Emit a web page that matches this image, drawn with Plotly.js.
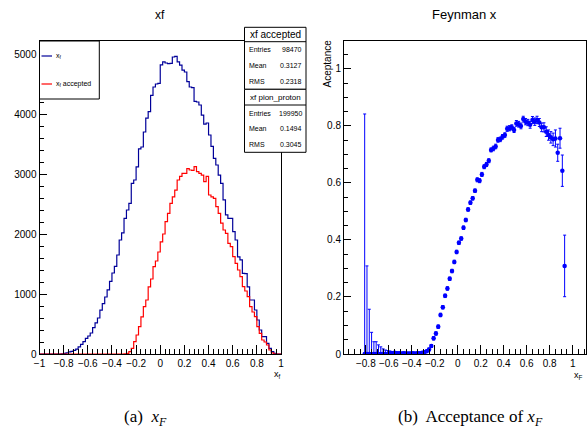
<!DOCTYPE html>
<html><head><meta charset="utf-8">
<script src="https://cdn.plot.ly/plotly-3.0.1.min.js"></script>
<style>html,body{margin:0;padding:0;background:#fff}#chart{width:587px;height:432px}</style>
</head><body><div id="chart"></div>
<script>
// ---------------- data ----------------
const binLow = -1, binHigh = 1, nBins = 100;

// xf (all pion_proton) histogram, 100 bins from -1 to 1
const xfAll = [
  0,0,0,0,0,0,0,0,0,3,
  10,20,35,45,60,80,120,160,205,260,
  300,350,440,520,600,730,840,950,1070,1210,
  1350,1460,1650,1900,2020,2260,2400,2510,2845,2900,
  3120,3420,3450,3700,3930,4040,4310,4450,4500,4510,
  4820,4870,4850,4840,4845,4950,4960,4870,4815,4730,
  4700,4540,4450,4440,4210,4200,4150,3980,3830,3850,
  3650,3460,3260,3150,2980,2845,2570,2320,2260,2260,
  2040,1900,1620,1570,1345,1340,1120,900,900,733,
  567,400,289,289,178,95,40,10,0,0
];
// xf accepted histogram
const xfAccepted = [
  0,0,0,0,0,0,0,0,0,0,
  0,0,0,0,0,0,0,0,0,0,
  0,0,0,0,0,0,0,0,0,0,
  0,0,0,0,0,3,10,40,95,205,
  317,455,620,790,900,1120,1250,1455,1550,1700,
  1870,2000,2205,2345,2510,2620,2733,2900,2960,3011,
  3010,3090,3067,3060,3122,3040,3011,2983,2872,2960,
  2650,2620,2595,2455,2345,2180,2067,2011,1845,1790,
  1622,1511,1400,1290,1122,1050,955,788,700,622,
  455,345,233,200,150,67,20,0,0,0
];

// acceptance points
const accX = [
  -0.81,-0.79,-0.77,-0.75,-0.73,-0.71,-0.69,-0.67,-0.65,-0.63,
  -0.61,-0.59,-0.57,-0.55,-0.53,-0.51,-0.49,-0.47,-0.45,-0.43,
  -0.41,-0.39,-0.37,-0.35,-0.33,-0.31,-0.29,-0.27,-0.25,-0.23,
  -0.21,-0.19,-0.17,-0.15,-0.13,-0.11,-0.09,-0.07,-0.05,-0.03,
  -0.01,0.01,0.03,0.05,0.07,0.09,0.11,0.13,0.15,0.17,
  0.19,0.21,0.23,0.25,0.27,0.29,0.31,0.33,0.35,0.37,
  0.39,0.41,0.43,0.45,0.47,0.49,0.51,0.53,0.55,0.57,
  0.59,0.61,0.63,0.65,0.67,0.69,0.71,0.73,0.75,0.77,
  0.79,0.81,0.83,0.85,0.87,0.89,0.91,0.93
];
const accY = [
  0,0,0,0,0,0,0,0,0,0,
  0,0.004,0.003,0.004,0.003,0.003,0.002,0.003,0.002,0.002,
  0.002,0.003,0.002,0.003,0.003,0.004,0.006,0.010,0.016,0.028,
  0.055,0.072,0.096,0.137,0.164,0.204,0.230,0.264,0.291,0.323,
  0.358,0.390,0.405,0.443,0.470,0.507,0.531,0.546,0.573,0.611,
  0.608,0.630,0.657,0.665,0.678,0.716,0.721,0.728,0.751,0.753,
  0.762,0.768,0.790,0.792,0.795,0.786,0.809,0.806,0.800,0.824,
  0.815,0.812,0.804,0.821,0.815,0.821,0.812,0.795,0.795,0.780,
  0.768,0.760,0.753,0.756,0.706,0.757,0.643,0.309
];
const accErr = [
  0.842,0.309,0.157,0.076,0.043,0.043,0.032,0.025,0.018,0.014,
  0.012,0.006,0.005,0.005,0.004,0.004,0.004,0.004,0.004,0.004,
  0.004,0.004,0.004,0.004,0.004,0.004,0.004,0.004,0.005,0.005,
  0.006,0.006,0.006,0.006,0.006,0.006,0.006,0.006,0.006,0.006,
  0.006,0.006,0.006,0.006,0.006,0.006,0.006,0.006,0.006,0.007,
  0.007,0.007,0.007,0.007,0.007,0.007,0.008,0.008,0.008,0.008,
  0.008,0.008,0.009,0.009,0.009,0.009,0.010,0.010,0.010,0.010,
  0.011,0.011,0.012,0.012,0.013,0.013,0.014,0.015,0.016,0.017,
  0.018,0.020,0.022,0.030,0.030,0.035,0.055,0.108
];

// stats boxes
const statLabels = ['Entries', 'Mean', 'RMS'];
const statsAcceptedTitle = 'xf accepted';
const statsAccepted = ['98470', '0.3127', '0.2318'];
const statsAllTitle = 'xf pion_proton';
const statsAll = ['199950', '0.1494', '0.3045'];

// ---------------- helpers ----------------
const W = 587, H = 432;
const px = v => v / W;
const py = v => 1 - v / H;
const FONT = 'Liberation Sans, Arial, Helvetica, sans-serif';
const SERIF = 'Liberation Serif, Times New Roman, serif';

const binW = (binHigh - binLow) / nBins;
const edges = [];
for (let i = 0; i <= nBins; i++) edges.push(+(binLow + i * binW).toFixed(4));
const stepY = arr => arr.concat([arr[arr.length - 1]]);

const traces = [
  {x: edges, y: stepY(xfAll), type: 'scatter', mode: 'lines',
   line: {shape: 'hv', color: '#000099', width: 1.2}, xaxis: 'x', yaxis: 'y', name: 'x_f'},
  {x: edges, y: stepY(xfAccepted), type: 'scatter', mode: 'lines',
   line: {shape: 'hv', color: '#ff0000', width: 1.2}, xaxis: 'x', yaxis: 'y', name: 'x_f accepted'},
  {x: accX, y: accY, type: 'scatter', mode: 'markers',
   marker: {color: '#0000ff', size: 4.5},
   error_y: {type: 'data', symmetric: false, array: accErr,
             arrayminus: accErr.map((e, i) => Math.min(e, accY[i])),
             color: '#0000ff', thickness: 1, width: 1.5},
   error_x: {type: 'constant', value: binW / 2, color: '#0000ff', thickness: 1, width: 0},
   xaxis: 'x2', yaxis: 'y2', name: 'acceptance'}
];

const tickfont = {family: FONT, size: 10, color: '#000'};
const baseAxis = {
  showline: true, mirror: true, linecolor: '#000', linewidth: 1,
  ticks: 'inside', tickcolor: '#000', tickwidth: 1,
  showgrid: false, zeroline: false, tickfont: tickfont, fixedrange: true
};
const yDom = [py(354), py(41)];

const layout = {
  width: W, height: H,
  margin: {l: 0, r: 0, t: 0, b: 0, pad: 0},
  paper_bgcolor: '#fff', plot_bgcolor: '#fff',
  showlegend: false,
  xaxis: Object.assign({}, baseAxis, {
    domain: [px(39.5), px(281)], range: [-1, 1], anchor: 'y',
    tick0: -1, dtick: 0.2, ticklen: 9,
    minor: {ticks: 'inside', dtick: 0.04, tick0: -1, ticklen: 5, tickcolor: '#000'}
  }),
  yaxis: Object.assign({}, baseAxis, {
    domain: yDom, range: [0, 5217], anchor: 'x',
    tick0: 0, dtick: 1000, ticklen: 7,
    minor: {ticks: 'inside', dtick: 200, ticklen: 4, tickcolor: '#000'}
  }),
  xaxis2: Object.assign({}, baseAxis, {
    domain: [px(344), px(586)], range: [-0.99, 1.116], anchor: 'y2',
    tick0: 0, dtick: 0.2, ticklen: 9,
    minor: {ticks: 'inside', dtick: 0.05, tick0: 0, ticklen: 5, tickcolor: '#000'}
  }),
  yaxis2: Object.assign({}, baseAxis, {
    domain: yDom, range: [0, 1.098], anchor: 'x2',
    tick0: 0, dtick: 0.2, ticklen: 7,
    minor: {ticks: 'inside', dtick: 0.05, ticklen: 4, tickcolor: '#000'}
  }),
  shapes: [],
  annotations: []
};

function ann(text, x, y, opts) {
  layout.annotations.push(Object.assign({
    text: text, x: px(x), y: py(y), xref: 'paper', yref: 'paper',
    showarrow: false, xanchor: 'center', yanchor: 'middle',
    font: {family: FONT, size: 10, color: '#000'}
  }, opts || {}));
}
function rect(x0, y0, x1, y1) {
  layout.shapes.push({type: 'rect', xref: 'paper', yref: 'paper',
    x0: px(x0), x1: px(x1), y0: py(y0), y1: py(y1),
    line: {color: '#000', width: 1}, fillcolor: '#fff', layer: 'above'});
}
function hline(x0, x1, y, color, w) {
  layout.shapes.push({type: 'line', xref: 'paper', yref: 'paper',
    x0: px(x0), x1: px(x1), y0: py(y), y1: py(y),
    line: {color: color || '#000', width: w || 1}, layer: 'above'});
}

// titles
ann('xf', 160, 15, {font: {family: FONT, size: 12, color: '#000'}});
ann('Feynman x', 465, 14, {font: {family: FONT, size: 13, color: '#000'}});
// axis titles
ann('x<sub>f</sub>', 277, 374, {font: {family: FONT, size: 9, color: '#000'}});
ann('x<sub>F</sub>', 578, 375, {font: {family: FONT, size: 9, color: '#000'}});
ann('Aceptance', 326.5, 64, {textangle: -90, font: {family: FONT, size: 10, color: '#000'}});

// legend box
rect(39.5, 41, 99.3, 99);
hline(41.5, 52, 56, '#000099', 1.2);
hline(41.5, 52, 84, '#ff0000', 1.2);
ann('x<sub>f</sub>', 53.5, 56, {xanchor: 'left', font: {family: FONT, size: 7, color: '#000'}});
ann('x<sub>f</sub> accepted', 53.5, 84, {xanchor: 'left', font: {family: FONT, size: 7, color: '#000'}});

// stats boxes
const bx0 = 244.5, bx1 = 306;
rect(bx0, 27.3, bx1, 89.3);
hline(bx0, bx1, 41.7);
ann(statsAcceptedTitle, (bx0 + bx1) / 2, 34.5, {font: {family: FONT, size: 10, color: '#000'}});
const rows1 = [49.8, 65.6, 81.4];
statLabels.forEach((l, i) => {
  ann(l, bx0 + 2.5, rows1[i], {xanchor: 'left', font: {family: FONT, size: 7, color: '#000'}});
  ann(statsAccepted[i], bx1 - 2.5, rows1[i], {xanchor: 'right', font: {family: FONT, size: 7, color: '#000'}});
});
rect(bx0, 89.3, bx1, 152.3);
hline(bx0, bx1, 105);
ann(statsAllTitle, (bx0 + bx1) / 2, 97.2, {font: {family: FONT, size: 8, color: '#000'}});
const rows2 = [113, 128.8, 144.6];
statLabels.forEach((l, i) => {
  ann(l, bx0 + 2.5, rows2[i], {xanchor: 'left', font: {family: FONT, size: 7, color: '#000'}});
  ann(statsAll[i], bx1 - 2.5, rows2[i], {xanchor: 'right', font: {family: FONT, size: 7, color: '#000'}});
});

// captions
ann('(a)  <i>x<sub>F</sub></i>', 145.5, 418, {font: {family: SERIF, size: 17, color: '#000'}});
ann('(b)  Acceptance of <i>x<sub>F</sub></i>', 470, 418, {font: {family: SERIF, size: 17, color: '#000'}});

Plotly.newPlot('chart', traces, layout, {staticPlot: true, displayModeBar: false});
</script>
</body></html>
